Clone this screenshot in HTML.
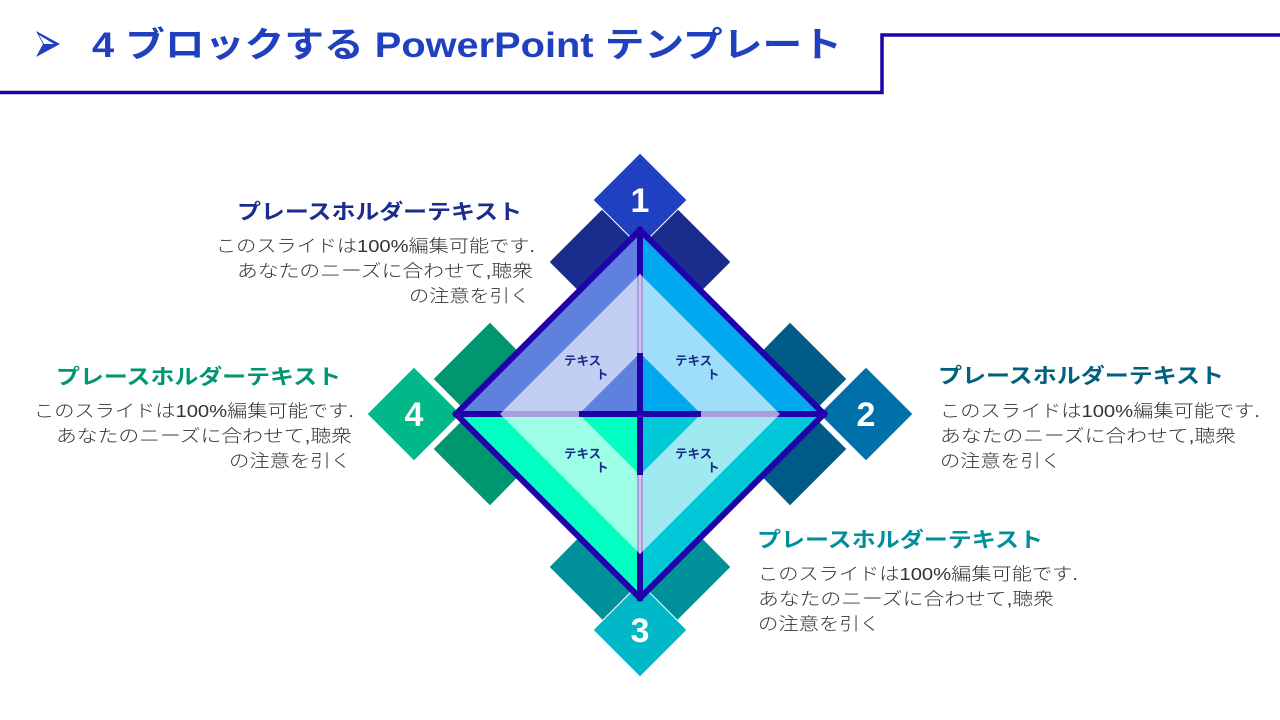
<!DOCTYPE html>
<html><head><meta charset="utf-8"><style>
html,body{margin:0;padding:0;background:#fff;width:1280px;height:720px;overflow:hidden}
svg{display:block}
.jp{font-family:"Liberation Sans","Noto Sans CJK JP",sans-serif}
.t{font-weight:bold;font-size:21px}
.b{font-size:17.5px;fill:#333;font-weight:300}
.s{font-weight:bold;font-size:12.5px;fill:#1a2a8c}
.n{font-family:"Liberation Sans",sans-serif;font-weight:bold;font-size:34px;fill:#fff}
</style></head><body>
<svg width="1280" height="720" viewBox="0 0 1280 720" xmlns="http://www.w3.org/2000/svg">
<!-- header -->
<polyline points="0,92.5 882,92.5 882,35 1280,35" fill="none" stroke="#2200aa" stroke-width="3.5"/>
<path d="M36,31 L60,44 L36,57 L43,44 Z" fill="#2040c0"/>
<path d="M39,35 L54,44 L44,44 Z" fill="#fff"/>
<text class="jp" x="92" y="57" font-size="35" font-weight="bold" fill="#2040c0" textLength="750" lengthAdjust="spacingAndGlyphs">4 ブロックする PowerPoint テンプレート</text>

<!-- decorative rects -->
<g stroke="#fff" stroke-width="1">
<polygon points="549,262 603,208 640,245 640,353" fill="#1b2d8c"/>
<polygon points="731,262 677,208 640,245 640,353" fill="#1b2d8c"/>
<polygon points="549,567 603,621 640,584 640,475" fill="#00909a"/>
<polygon points="731,567 677,621 640,584 640,475" fill="#00909a"/>
<polygon points="490,322 433,379 468,414 580,414" fill="#009670"/>
<polygon points="433,449 490,506 580,414 468,414" fill="#009670"/>
<polygon points="790,322 847,379 812,414 700,414" fill="#005c87"/>
<polygon points="847,449 790,506 700,414 812,414" fill="#005c87"/>
</g>
<!-- number diamonds -->
<g stroke="#fff" stroke-width="1">
<polygon points="640,153 687,200 640,247 593,200" fill="#1f40c0"/>
<polygon points="866,367 913,414 866,461 819,414" fill="#0070a8"/>
<polygon points="640,583 687,630 640,677 593,630" fill="#00b8c8"/>
<polygon points="414,367 461,414 414,461 367,414" fill="#00b888"/>
</g>
<text class="n" x="640" y="212" text-anchor="middle">1</text>
<text class="n" x="866" y="426" text-anchor="middle">2</text>
<text class="n" x="640" y="642" text-anchor="middle">3</text>
<text class="n" x="414" y="426" text-anchor="middle">4</text>

<!-- main diamond quadrants -->
<polygon points="640,227 640,414 453,414" fill="#6080e0"/>
<polygon points="640,227 827,414 640,414" fill="#00a8f0"/>
<polygon points="453,414 640,414 640,601" fill="#00ffc0"/>
<polygon points="827,414 640,414 640,601" fill="#00c8d8"/>
<line x1="640" y1="227" x2="640" y2="601" stroke="#2200aa" stroke-width="6"/>
<line x1="453" y1="414" x2="827" y2="414" stroke="#2200aa" stroke-width="6"/>
<polygon points="640,274 780,414 640,554 500,414" fill="#fff" fill-opacity="0.62"/>
<line x1="640" y1="274" x2="640" y2="554" stroke="#fff" stroke-width="1" opacity="0.8"/>
<polygon points="640,353 640,414 579,414" fill="#6080e0"/>
<polygon points="640,353 701,414 640,414" fill="#00a8f0"/>
<polygon points="579,414 640,414 640,475" fill="#00ffc0"/>
<polygon points="701,414 640,414 640,475" fill="#00c8d8"/>
<line x1="640" y1="353" x2="640" y2="475" stroke="#2200aa" stroke-width="6"/>
<line x1="579" y1="414" x2="701" y2="414" stroke="#2200aa" stroke-width="6"/>
<polygon points="640,230 824,414 640,598 456,414" fill="none" stroke="#2200aa" stroke-width="6"/>

<!-- inner text -->
<g class="jp">
<text class="s" x="564" y="365">テキス</text><text class="s" x="596" y="379">ト</text>
<text class="s" x="675" y="365">テキス</text><text class="s" x="707" y="379">ト</text>
<text class="s" x="564" y="458">テキス</text><text class="s" x="596" y="472">ト</text>
<text class="s" x="675" y="458">テキス</text><text class="s" x="707" y="472">ト</text>
</g>

<!-- labels -->
<g class="jp">
<text class="t" x="237" y="219" fill="#1b2d8c" textLength="285" lengthAdjust="spacingAndGlyphs">プレースホルダーテキスト</text>
<text class="b" x="216" y="252" textLength="319" lengthAdjust="spacingAndGlyphs">このスライドは100%編集可能です.</text>
<text class="b" x="237" y="277" textLength="296" lengthAdjust="spacingAndGlyphs">あなたのニーズに合わせて,聴衆</text>
<text class="b" x="409" y="302" textLength="121" lengthAdjust="spacingAndGlyphs">の注意を引く</text>

<text class="t" x="56" y="384" fill="#009670" textLength="285" lengthAdjust="spacingAndGlyphs">プレースホルダーテキスト</text>
<text class="b" x="34" y="417" textLength="320" lengthAdjust="spacingAndGlyphs">このスライドは100%編集可能です.</text>
<text class="b" x="56" y="442" textLength="296" lengthAdjust="spacingAndGlyphs">あなたのニーズに合わせて,聴衆</text>
<text class="b" x="229" y="467" textLength="122" lengthAdjust="spacingAndGlyphs">の注意を引く</text>

<text class="t" x="938" y="383" fill="#00607f" textLength="286" lengthAdjust="spacingAndGlyphs">プレースホルダーテキスト</text>
<text class="b" x="940" y="417" textLength="320" lengthAdjust="spacingAndGlyphs">このスライドは100%編集可能です.</text>
<text class="b" x="940" y="442" textLength="296" lengthAdjust="spacingAndGlyphs">あなたのニーズに合わせて,聴衆</text>
<text class="b" x="940" y="467" textLength="121" lengthAdjust="spacingAndGlyphs">の注意を引く</text>

<text class="t" x="757" y="547" fill="#00909a" textLength="286" lengthAdjust="spacingAndGlyphs">プレースホルダーテキスト</text>
<text class="b" x="758" y="580" textLength="320" lengthAdjust="spacingAndGlyphs">このスライドは100%編集可能です.</text>
<text class="b" x="758" y="605" textLength="296" lengthAdjust="spacingAndGlyphs">あなたのニーズに合わせて,聴衆</text>
<text class="b" x="758" y="630" textLength="122" lengthAdjust="spacingAndGlyphs">の注意を引く</text>
</g>
</svg>
</body></html>
